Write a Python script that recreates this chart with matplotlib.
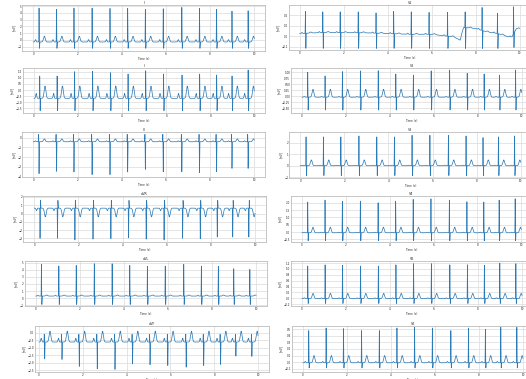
import numpy as np
import matplotlib
matplotlib.use("Agg")
import matplotlib.pyplot as plt

# ---------------- data ----------------
lead_names = ["I", "II", "III", "aVR", "aVL", "aVF",
              "V1", "V2", "V3", "V4", "V5", "V6"]

beat_times = [0.26, 1.05, 1.84, 2.66, 3.47, 4.27, 5.07,
              5.88, 6.72, 7.52, 8.29, 8.99, 9.72]

# isoelectric baseline per lead (mV)
baseline = [-0.30, -0.68, -0.42, 0.65, 0.30, -0.62,
            0.00, -0.04, 0.00, -0.05, -0.01, -0.01]
# P and T wave amplitude above baseline (mV)
p_amp = [0.35, 0.40, 0.10, -0.30, 0.10, 0.25,
         0.01, 0.03, 0.05, 0.04, 0.03, 0.02]
t_amp = [0.85, 1.00, 0.30, -1.05, 0.15, 0.72,
         0.01, 0.33, 0.50, 0.38, 0.18, 0.11]

# main QRS spike per beat (absolute extreme, mV)
main_I = [4.70, 4.50, 4.70, 4.70, 4.65, 4.65, 4.50, 4.60, 4.80, 4.65, 4.50, 4.25, 4.30]
main_II = [1.15, 1.15, 1.50, 1.53, 1.42, 1.31, 1.58, 1.31, 1.23, 1.31, 1.23, 1.15, 1.64]
main_III = [-3.69, -3.45, -3.52, -3.79, -3.79, -3.52, -3.25, -3.49, -3.49, -3.59, -3.49, -3.15, -3.15]
main_aVR = [-3.00, -3.00, -3.20, -3.10, -3.05, -2.95, -3.10, -3.20, -3.00, -3.05, -2.85, -2.85, -2.85]
main_aVL = [4.77, 4.53, 4.62, 4.86, 4.86, 4.62, 4.48, 4.53, 4.77, 4.53, 4.48, 4.15, 4.06]
main_aVF = [-1.73, -1.77, -2.23, -2.39, -2.43, -2.06, -2.12, -2.17, -2.28, -2.17, -2.10, -1.55, -1.57]
main_V1 = [0.240, 0.235, 0.235, 0.235, 0.225, 0.240, 0.235, 0.230, 0.230, 0.235, 0.277, 0.220, 0.283]
main_V2 = [1.00, 0.85, 1.03, 1.06, 1.07, 0.93, 0.89, 1.06, 1.10, 0.96, 0.93, 0.89, 1.10]
main_V3 = [2.49, 2.49, 2.49, 2.57, 2.49, 2.49, 2.63, 2.63, 2.63, 2.57, 2.43, 2.49, 2.57]
main_V4 = [2.05, 2.18, 2.11, 2.11, 2.00, 2.11, 2.23, 2.27, 2.18, 2.07, 2.05, 2.18, 2.27]
main_V5 = [1.10, 1.14, 1.12, 1.10, 1.10, 1.14, 1.18, 1.18, 1.14, 1.14, 1.12, 1.20, 1.18]
main_V6 = [0.48, 0.52, 0.51, 0.48, 0.48, 0.52, 0.53, 0.52, 0.48, 0.52, 0.50, 0.53, 0.53]
main_spikes = [main_I, main_II, main_III, main_aVR, main_aVL, main_aVF,
               main_V1, main_V2, main_V3, main_V4, main_V5, main_V6]

# secondary QRS deflection (absolute, mV) and whether it precedes the main spike
second_val = [-1.25, -1.70, 0.35, 1.60, -0.90, -0.10,
              -0.115, -0.58, -0.86, -0.60, -0.18, -0.09]
second_before = [False, False, True, False, False, True,
                 False, False, False, False, False, False]

# V1 baseline wander (time s, mV)
v1_drift_t = [0.0, 1.0, 3.0, 4.0, 5.0, 6.0, 7.0, 7.3, 7.45, 8.0, 8.5, 9.0, 9.5, 9.65, 9.85, 10.0]
v1_drift_v = [0.027, 0.037, 0.034, 0.027, 0.020, 0.020, -0.005, -0.036, 0.085, 0.075,
              0.043, 0.027, -0.005, -0.005, 0.075, 0.070]

# axis tick labels
y_ticks = [
    [-1, 0, 1, 2, 3, 4, 5],
    [-1.5, -1.0, -0.5, 0.0, 0.5, 1.0, 1.5],
    [-4, -3, -2, -1, 0],
    [-3, -2, -1, 0, 1, 2],
    [-1, 0, 1, 2, 3, 4, 5],
    [-2.5, -2.0, -1.5, -1.0, -0.5, 0.0],
    [-0.1, 0.0, 0.1, 0.2],
    [-0.50, -0.25, 0.00, 0.25, 0.50, 0.75, 1.00],
    [-1, 0, 1, 2],
    [-0.5, 0.0, 0.5, 1.0, 1.5, 2.0],
    [-0.2, 0.0, 0.2, 0.4, 0.6, 0.8, 1.0, 1.2],
    [-0.1, 0.0, 0.1, 0.2, 0.3, 0.4, 0.5],
]
y_tick_fmt = ["%g", "%.1f", "%g", "%g", "%g", "%.1f",
              "%.1f", "%.2f", "%g", "%.1f", "%.1f", "%.1f"]
x_ticks = [0, 2, 4, 6, 8, 10]

# ---------------- layout (pixels in the 526x379 picture) ----------------
W, H = 526, 379
y_lims = [(-1.63, 5.15), (-1.88, 1.80), (-4.03, 0.58), (-3.45, 2.12),
          (-1.10, 5.24), (-2.60, 0.44), (-0.13, 0.30), (-0.70, 1.18),
          (-1.06, 2.91), (-0.68, 2.46), (-0.26, 1.27), (-0.15, 0.55)]
x0_px = [33.3, 34.0, 33.3, 34.3, 35.7, 39.0, 299.7, 302.0, 300.3, 302.0, 302.0, 303.0]
x10_px = [254.3, 254.3, 254.3, 255.0, 256.0, 258.0, 519.7, 521.7, 520.7, 521.3, 522.0, 523.0]
top_px = [5, 68, 132, 196, 261, 326, 5, 68, 132, 196, 261, 326]
bot_px = [51, 113, 177, 242, 306, 372, 50, 113, 178, 242, 306, 372]
xlim_left = [-0.5] * 12
xlim_left[5] = -0.18

# ---------------- style ----------------
DPI = 20
plt.rcParams.update({
    "font.family": "DejaVu Sans",
    "font.size": 10,
    "text.color": "#262626",
    "axes.labelcolor": "#262626",
    "xtick.color": "#262626",
    "ytick.color": "#262626",
    "xtick.major.size": 0,
    "ytick.major.size": 0,
})
line_color = "#2a7ab8"

fig = plt.figure(figsize=(W / DPI, H / DPI), dpi=DPI)
fig.patch.set_facecolor("white")

fs = 500
t = np.arange(0, 10 + 1 / fs, 1 / fs)


def g(x, mu, sig):
    return np.exp(-0.5 * ((x - mu) / sig) ** 2)


for k, name in enumerate(lead_names):
    base = np.full_like(t, baseline[k])
    if name == "V1":
        base = base + np.interp(t, v1_drift_t, v1_drift_v)
    y = base.copy()
    off2 = -0.02 if second_before[k] else 0.02
    for i, bt in enumerate(beat_times):
        b0 = np.interp(bt, t, base)
        y += p_amp[k] * g(t, bt - 0.16, 0.022)
        y += (main_spikes[k][i] - b0) * g(t, bt, 0.006)
        y += (second_val[k] - b0) * g(t, bt + off2, 0.006)
        y += t_amp[k] * g(t, bt + 0.24, 0.04)

    u = (x10_px[k] - x0_px[k]) / 10.0
    left_px = x0_px[k] + xlim_left[k] * u
    right_px = x10_px[k] + 0.5 * u
    ax = fig.add_axes([left_px / W, 1 - bot_px[k] / H,
                       (right_px - left_px) / W, (bot_px[k] - top_px[k]) / H])
    ax.set_facecolor("white")
    ax.plot(t, y, color=line_color, lw=2.6)
    ax.set_xlim(xlim_left[k], 10.5)
    ax.set_ylim(*y_lims[k])
    ax.set_xticks(x_ticks)
    ax.set_yticks(y_ticks[k])
    ax.set_yticklabels([(y_tick_fmt[k] % v).replace("-", "\u2212") for v in y_ticks[k]])
    ax.grid(True, color="#e0e0e0", lw=3)
    ax.set_axisbelow(True)
    for sp in ax.spines.values():
        sp.set_color("#bdbdbd")
        sp.set_linewidth(3)
    ax.tick_params(labelsize=10, pad=3)
    ax.set_title(name, fontsize=12, pad=5)
    ax.set_xlabel("Time (s)", labelpad=3)
    ax.set_ylabel("[mV]", labelpad=5)

fig.savefig("out.png", dpi=DPI, facecolor="white")
